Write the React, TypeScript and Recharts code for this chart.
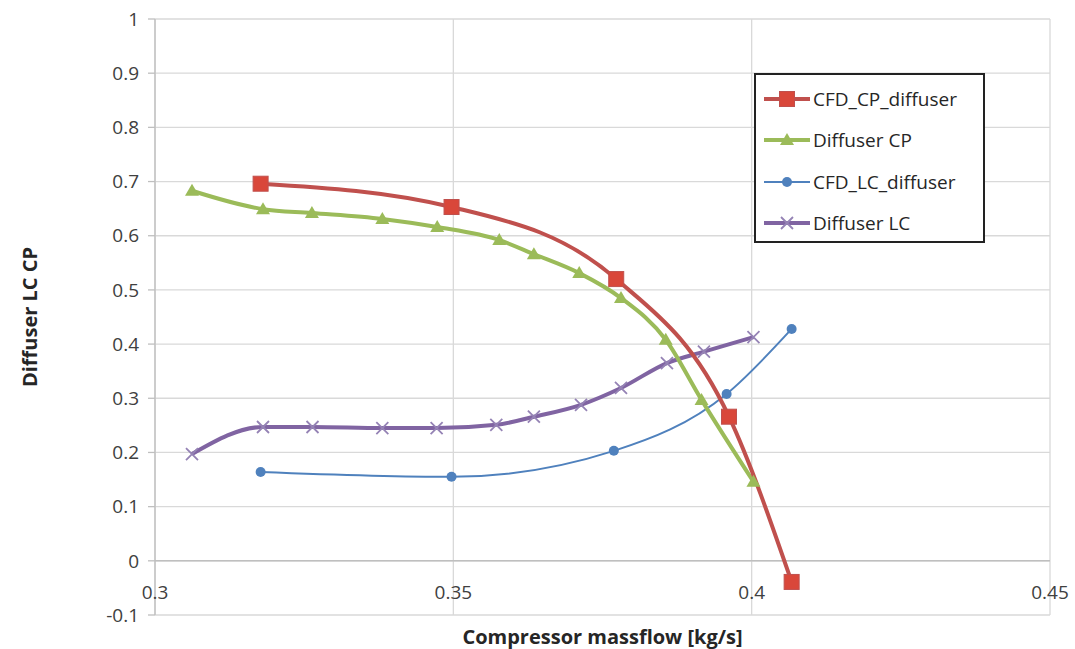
import { LineChart, Line, XAxis, YAxis, CartesianGrid, Legend, ReferenceLine, Label } from 'recharts';

// values
const cfdCpX = [0.3177, 0.3497, 0.3773, 0.3962, 0.4067];
const cfdCpY = [0.696, 0.653, 0.52, 0.266, -0.039];

const diffCpX = [0.3062, 0.3181, 0.3263, 0.3381, 0.3473, 0.3577, 0.3635, 0.3711, 0.3781, 0.3856, 0.3916, 0.4003];
const diffCpY = [0.683, 0.649, 0.642, 0.631, 0.616, 0.592, 0.566, 0.531, 0.485, 0.408, 0.297, 0.146];

const cfdLcX = [0.3177, 0.3497, 0.3769, 0.3958, 0.4067];
const cfdLcY = [0.164, 0.155, 0.203, 0.308, 0.428];

const diffLcX = [0.3062, 0.3181, 0.3264, 0.3381, 0.3472, 0.3572, 0.3635, 0.3714, 0.3781, 0.3858, 0.392, 0.4003];
const diffLcY = [0.197, 0.247, 0.247, 0.245, 0.245, 0.251, 0.266, 0.288, 0.319, 0.365, 0.386, 0.413];

const xTicks = [0.3, 0.35, 0.4, 0.45];
const yTicks = [-0.1, 0, 0.1, 0.2, 0.3, 0.4, 0.5, 0.6, 0.7, 0.8, 0.9, 1];

const legendOrder = ['CFD_CP_diffuser', 'Diffuser CP', 'CFD_LC_diffuser', 'Diffuser LC'];

const toPoints = (xs: number[], ys: number[]) => xs.map((x, i) => ({ x, y: ys[i] }));

const FONT = '"Open Sans", Lato, sans-serif';

const SquareDot = (props: any) => {
  const { cx, cy } = props;
  if (cx == null || cy == null) return null;
  return <rect x={cx - 7.5} y={cy - 7.5} width={15} height={15} fill="#D9473A" stroke="#C0504D" strokeWidth={1} />;
};

const TriangleDot = (props: any) => {
  const { cx, cy } = props;
  if (cx == null || cy == null) return null;
  return <path d={`M${cx},${cy - 7} L${cx + 7},${cy + 5} L${cx - 7},${cy + 5} Z`} fill="#9BBB59" />;
};

const CircleDot = (props: any) => {
  const { cx, cy } = props;
  if (cx == null || cy == null) return null;
  return <circle cx={cx} cy={cy} r={5} fill="#4F81BD" />;
};

const CrossDot = (props: any) => {
  const { cx, cy } = props;
  if (cx == null || cy == null) return null;
  return (
    <path
      d={`M${cx - 6},${cy - 6} L${cx + 6},${cy + 6} M${cx + 6},${cy - 6} L${cx - 6},${cy + 6}`}
      stroke="#9583B5"
      strokeWidth={1.8}
    />
  );
};

const markers: Record<string, (p: any) => any> = {
  CFD_CP_diffuser: SquareDot,
  'Diffuser CP': TriangleDot,
  CFD_LC_diffuser: CircleDot,
  'Diffuser LC': CrossDot,
};

const legendWidths: Record<string, number> = {
  CFD_CP_diffuser: 4,
  'Diffuser CP': 4,
  CFD_LC_diffuser: 2,
  'Diffuser LC': 4,
};

const renderLegend = (props: any) => {
  const items = [...(props.payload || [])].sort(
    (a: any, b: any) => legendOrder.indexOf(a.value) - legendOrder.indexOf(b.value)
  );
  return (
    <div
      style={{
        border: '2px solid #222',
        background: '#fff',
        width: 231,
        height: 170,
        boxSizing: 'border-box',
        padding: '3px 0 0 8px',
        fontFamily: FONT,
        fontSize: 19,
        color: '#262626',
        textAlign: 'left',
        whiteSpace: 'nowrap',
      }}
    >
      {items.map((item: any) => {
        const Marker = markers[item.value];
        return (
          <div key={item.value} style={{ display: 'flex', alignItems: 'center', height: 41.5 }}>
            <svg width={46} height={20} style={{ marginRight: 3, flexShrink: 0 }}>
              <line x1={0} y1={10} x2={46} y2={10} stroke={item.color} strokeWidth={legendWidths[item.value]} />
              <Marker cx={23} cy={10} />
            </svg>
            <span>{item.value}</span>
          </div>
        );
      })}
    </div>
  );
};

const XTick = (props: any) => {
  const { x, y, payload } = props;
  // labels sit under the zero line, as in the spreadsheet chart
  return (
    <text x={x} y={y - 40} textAnchor="middle" dominantBaseline="hanging" fill="#404040" fontSize={19} fontFamily={FONT}>
      {payload.value}
    </text>
  );
};

export default function App() {
  return (
    <div style={{ position: 'absolute', left: 0, top: 0, background: '#fff' }}>
      <LineChart width={1075} height={649} margin={{ top: 19, right: 25, left: 0, bottom: 0 }}>
        <CartesianGrid stroke="#D9D9D9" strokeWidth={1.3} />
        <XAxis
          type="number"
          dataKey="x"
          domain={[0.3, 0.45]}
          ticks={xTicks}
          axisLine={false}
          tickLine={false}
          height={34}
          tick={<XTick />}
        >
          <Label
            value="Compressor massflow [kg/s]"
            position="insideBottom"
            offset={5}
            fill="#262626"
            fontSize={20}
            fontWeight="bold"
            fontFamily={FONT}
          />
        </XAxis>
        <YAxis
          type="number"
          domain={[-0.1, 1]}
          ticks={yTicks}
          width={155}
          axisLine={{ stroke: '#BFBFBF', strokeWidth: 1.3 }}
          tickLine={{ stroke: '#BFBFBF', strokeWidth: 1.3 }}
          tickSize={7}
          tickMargin={9}
          tick={{ fill: '#404040', fontSize: 19, fontFamily: FONT }}
        >
          <Label
            value="Diffuser LC CP"
            angle={-90}
            position="insideLeft"
            offset={30}
            style={{ textAnchor: 'middle' }}
            fill="#262626"
            fontSize={20}
            fontWeight="bold"
            fontFamily={FONT}
          />
        </YAxis>
        <ReferenceLine y={0} stroke="#BFBFBF" strokeWidth={1.5} />
        <Legend
          layout="vertical"
          align="center"
          verticalAlign="middle"
          content={renderLegend}
          wrapperStyle={{ position: 'absolute', left: 754, top: 73, width: 231, height: 170 }}
        />
        <Line
          data={toPoints(diffLcX, diffLcY)}
          dataKey="y"
          name="Diffuser LC"
          type="monotone"
          stroke="#8064A2"
          strokeWidth={4}
          dot={<CrossDot />}
          activeDot={false}
          isAnimationActive={false}
        />
        <Line
          data={toPoints(cfdLcX, cfdLcY)}
          dataKey="y"
          name="CFD_LC_diffuser"
          type="monotone"
          stroke="#4F81BD"
          strokeWidth={2}
          dot={<CircleDot />}
          activeDot={false}
          isAnimationActive={false}
        />
        <Line
          data={toPoints(diffCpX, diffCpY)}
          dataKey="y"
          name="Diffuser CP"
          type="monotone"
          stroke="#9BBB59"
          strokeWidth={4}
          dot={<TriangleDot />}
          activeDot={false}
          isAnimationActive={false}
        />
        <Line
          data={toPoints(cfdCpX, cfdCpY)}
          dataKey="y"
          name="CFD_CP_diffuser"
          type="monotone"
          stroke="#C0504D"
          strokeWidth={4}
          dot={<SquareDot />}
          activeDot={false}
          isAnimationActive={false}
        />
      </LineChart>
    </div>
  );
}
